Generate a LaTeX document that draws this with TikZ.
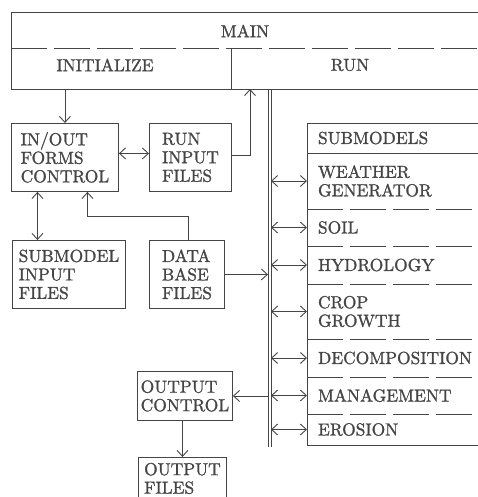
\documentclass[tikz,border=0pt]{standalone}
\usepackage{fontspec}
\setmainfont{lmroman10-regular}[Extension=.otf, FakeBold=1.2]
\usetikzlibrary{arrows.meta}
\definecolor{ink}{HTML}{454545}

\begin{document}
\begin{tikzpicture}[x=1pt,y=-1pt,
    every node/.style={font=\fontsize{17.4}{18.5}\selectfont, text=ink},
    block/.style={draw=ink, line width=0.9pt, anchor=north west, align=left, inner sep=0pt, minimum height=68pt},
    rowcell/.style={anchor=north west, align=left, text width=160pt, inner xsep=11pt, inner ysep=0pt, outer sep=0pt},
    rule/.style={draw=ink, line width=0.9pt},
    dashrule/.style={draw=ink, line width=0.9pt, dash pattern=on 36pt off 7pt},
    arr/.style={draw=ink, line width=0.9pt, -{Straight Barb[length=6pt,width=11pt]}},
    dbl/.style={draw=ink, line width=0.9pt, {Straight Barb[length=6pt,width=11pt]}-{Straight Barb[length=6pt,width=11pt]}}]
    \useasboundingbox (0,0) rectangle (478,497);
    \clip (0,0) rectangle (478,497);

    % main program
    \node[block, minimum width=520pt, minimum height=77pt] (main) at (11,12) {};
    \coordinate (split) at (11,48);
    \coordinate (divide) at (231,48);
    \draw[dashrule] (split) -- ++(480,0);
    \draw[rule] (divide) -- (divide |- main.south);
    \node (maintxt) at (245,31) {MAIN};
    \node (init) at (105,65) {INITIALIZE};
    \node (run) at (350,65) {RUN};

    % files and control
    \node[block, minimum width=107pt] (inout) at (11,123) {IN/OUT\\FORMS\\CONTROL};
    \node[block, minimum width=82pt] (runin) at (149,123) {RUN\\INPUT\\FILES};
    \node[block, minimum width=113pt] (subin) at (12,240) {SUBMODEL\\INPUT\\FILES};
    \node[block, minimum width=75pt] (dbase) at (149,240) {DATA\\BASE\\FILES};
    \node[block, minimum width=95pt, minimum height=49pt] (outctl) at (137,371) {OUTPUT\\CONTROL};
    \node[block, minimum width=88pt, minimum height=42pt] (outfil) at (138,457) {OUTPUT\\FILES};

    % submodels
    \node[block, minimum width=200pt, minimum height=322pt] (stack) at (307,123) {};
    \node[rowcell, minimum height=30pt] (submod) at (stack.north west) {SUBMODELS};
    \node[rowcell, minimum height=56pt] (weather) at (submod.south west) {WEATHER\\GENERATOR};
    \node[rowcell, minimum height=37pt] (soil) at (weather.south west) {SOIL};
    \node[rowcell, minimum height=38pt] (hydro) at (soil.south west) {HYDROLOGY};
    \node[rowcell, minimum height=55pt] (crop) at (hydro.south west) {CROP\\GROWTH};
    \node[rowcell, minimum height=38pt] (decomp) at (crop.south west) {DECOMPOSITION};
    \node[rowcell, minimum height=37pt] (manage) at (decomp.south west) {MANAGEMENT};
    \node[rowcell, minimum height=31pt] (erosion) at (manage.south west) {EROSION};
    \draw[rule] (submod.south west) -- ++(200,0);
    \draw[dashrule] (weather.south west) -- ++(200,0);
    \draw[dashrule] (soil.south west) -- ++(200,0);
    \draw[dashrule] (hydro.south west) -- ++(200,0);
    \draw[dashrule] (crop.south west) -- ++(200,0);
    \draw[dashrule] (decomp.south west) -- ++(200,0);
    \draw[dashrule] (manage.south west) -- ++(200,0);

    % bus
    \coordinate (busl) at (268,89);
    \coordinate (busr) at (271,89);
    \coordinate (runpt) at (250,89);
    \draw[rule] (busl) -- ++(0,358);
    \draw[rule] (busr) -- ++(0,358);

    \draw[dbl] (weather.west -| busr) -- (weather.west);
    \draw[dbl] (soil.west -| busr) -- (soil.west);
    \draw[dbl] (hydro.west -| busr) -- (hydro.west);
    \draw[dbl] (crop.west -| busr) -- (crop.west);
    \draw[dbl] (decomp.west -| busr) -- (decomp.west);
    \draw[dbl] (manage.west -| busr) -- (manage.west);
    \draw[dbl] (erosion.west -| busr) -- (erosion.west);

    % flows
    \draw[arr] (inout.north |- main.south) -- (inout.north);
    \draw[dbl] ([yshift=4pt]inout.east) -- ([yshift=4pt]runin.west);
    \draw[arr] ([yshift=2pt]runin.east) -| (runpt);
    \draw[dbl] ([xshift=-27.5pt]inout.south) -- ([xshift=-31.5pt]subin.north);
    \draw[arr] ([xshift=1.5pt]dbase.north) -- ++(0,-24) -| ([xshift=22.5pt]inout.south);
    \draw[arr] (dbase.east) -- (dbase.east -| busl);
    \draw[arr] (outctl.east -| busl) -- (outctl.east);
    \draw[arr] (outctl.south -| outfil.north) -- (outfil.north);
\end{tikzpicture}
\end{document}
